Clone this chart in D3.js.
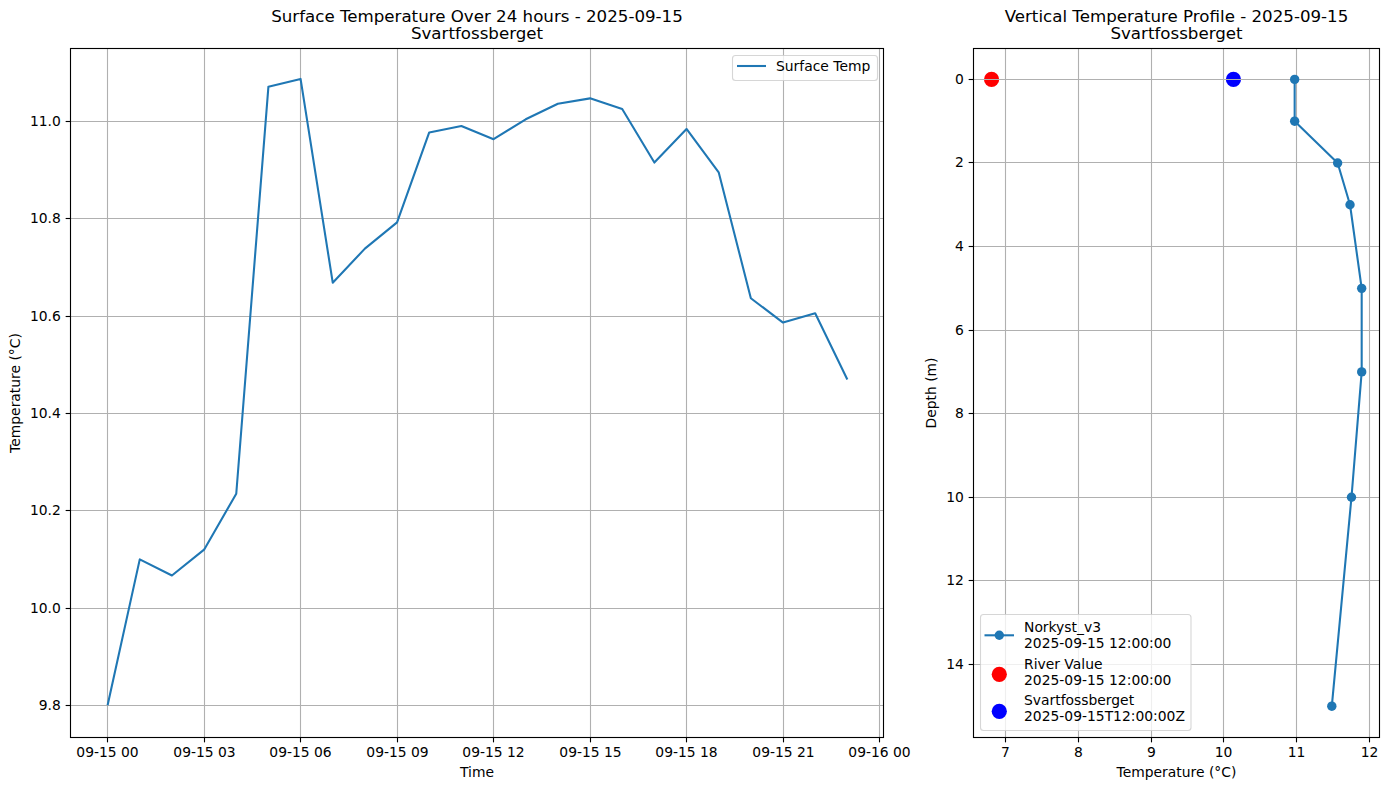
<!DOCTYPE html>
<html><head><meta charset="utf-8">
<script src="https://cdn.jsdelivr.net/npm/d3@7"></script>
<style>
html,body{margin:0;padding:0;background:#fff}
svg{display:block}
text{font-family:"DejaVu Sans",sans-serif;fill:#000}
</style></head><body><svg id="c" width="1389" height="790"></svg>
<script>
const hours=[0,1,2,3,4,5,6,7,8,9,10,11,12,13,14,15,16,17,18,19,20,21,22,23];
const surfaceTemp=[9.8,10.1,10.067,10.12,10.235,11.072,11.088,10.669,10.739,10.793,10.978,10.991,10.964,11.005,11.037,11.048,11.026,10.916,10.985,10.896,10.637,10.587,10.606,10.47];
const surfaceYTicks=[9.8,10,10.2,10.4,10.6,10.8,11];
const surfaceXTicksHours=[0,3,6,9,12,15,18,21,24];
const depths=[0,1,2,3,5,7,10,15];
const profileTemp=[10.97,10.97,11.56,11.73,11.89,11.89,11.75,11.48];
const profileXTicks=[7,8,9,10,11,12];
const profileYTicks=[0,2,4,6,8,10,12,14];
const riverValue=[{t:6.81,d:0}];
const stationValue=[{t:10.13,d:0}];
const legendLeft=["Surface Temp"];
const legendRight=[["Norkyst_v3","2025-09-15 12:00:00"],["River Value","2025-09-15 12:00:00"],["Svartfossberget","2025-09-15T12:00:00Z"]];

const FS=13.89,BLUE="#1f77b4",GRID="#b0b0b0";
const svg=d3.select("#c");
const time=h=>new Date(Date.UTC(2025,8,15,h));
const fmt=d3.utcFormat("%m-%d %H");
const snap=v=>Math.floor(v)+0.5;

function frame(g,L,R,T,B,xA,yA,title,xl,yl,ylx){
  g.append("g").attr("transform",`translate(0,${B})`).call(xA.offset(0)).call(styleAxis);
  g.append("g").attr("transform",`translate(${L},0)`).call(yA.offset(0)).call(styleAxis);
  const t=g.append("text").attr("x",(L+R)/2).attr("text-anchor","middle").style("font-size","16.67px");
  t.append("tspan").attr("x",(L+R)/2).attr("y",21.5).text(title[0]);
  t.append("tspan").attr("x",(L+R)/2).attr("y",39).text(title[1]);
  g.append("text").attr("x",(L+R)/2).attr("y",777).attr("text-anchor","middle").style("font-size",FS+"px").text(xl);
  g.append("text").attr("transform",`translate(${ylx},${(T+B)/2}) rotate(-90)`).attr("text-anchor","middle").style("font-size",FS+"px").text(yl);
}
function styleAxis(s){
  s.select(".domain").remove();
  s.selectAll(".tick").attr("transform",function(){
    const m=/translate\(([^,]+),([^)]+)\)/.exec(this.getAttribute("transform"));
    const a=+m[1],b=+m[2];
    return a===0?`translate(0,${snap(b)})`:`translate(${snap(a)},0)`;
  });
  s.selectAll(".tick line").attr("stroke","#000").attr("stroke-width",1.11);
  s.selectAll(".tick text").style("font-size",FS+"px").style("font-family",'"DejaVu Sans",sans-serif').attr("fill","#000");
}
function grid(g,xs,ys,x,y,L,R,T,B){
  const a=g.append("g").attr("stroke",GRID).attr("stroke-width",1.11);
  xs.forEach(v=>a.append("line").attr("x1",snap(x(v))).attr("x2",snap(x(v))).attr("y1",T).attr("y2",B));
  ys.forEach(v=>a.append("line").attr("y1",snap(y(v))).attr("y2",snap(y(v))).attr("x1",L).attr("x2",R));
}
function border(g,L,R,T,B){
  g.append("rect").attr("x",L).attr("y",T).attr("width",R-L).attr("height",B-T).attr("fill","none").attr("stroke","#000").attr("stroke-width",1.11);
}
function legendBox(g,x,y,w,h){
  g.append("rect").attr("x",x).attr("y",y).attr("width",w).attr("height",h).attr("rx",3).attr("fill","#fff").attr("fill-opacity",.8).attr("stroke","#ccc").attr("stroke-opacity",.8).attr("stroke-width",1.11);
}

/* left panel */
{
  const L=70.5,R=883.5,T=48.5,B=737.5;
  const g=svg.append("g");
  const x=d3.scaleUtc().domain([time(0),time(24)]).range([107.6,879.5]);
  const y=d3.scaleLinear().domain([9.8,11]).range([705.3,121.7]);
  const xT=surfaceXTicksHours.map(time);
  frame(g,L,R,T,B,
    d3.axisBottom(x).tickValues(xT).tickFormat(fmt).tickSize(4.86).tickPadding(4.86),
    d3.axisLeft(y).tickValues(surfaceYTicks).tickFormat(d3.format(".1f")).tickSize(4.86).tickPadding(4.86),
    ["Surface Temperature Over 24 hours - 2025-09-15","Svartfossberget"],"Time","Temperature (°C)",20);
  grid(g,xT,surfaceYTicks,x,y,L,R,T,B);
  g.append("path").datum(hours).attr("fill","none").attr("stroke",BLUE).attr("stroke-width",2.08).attr("stroke-linejoin","round")
    .attr("d",d3.line().x(h=>x(time(h))).y(h=>y(surfaceTemp[h])));
  border(g,L,R,T,B);
  legendBox(g,732.5,55.5,145,25);
  g.append("line").attr("x1",737).attr("x2",766).attr("y1",66).attr("y2",66).attr("stroke",BLUE).attr("stroke-width",2.08);
  g.append("text").attr("x",776).attr("y",71).style("font-size",FS+"px").text(legendLeft[0]);
}
/* right panel */
{
  const L=973.5,R=1379.5,T=48.5,B=737.5;
  const g=svg.append("g");
  const x=d3.scaleLinear().domain([7,12]).range([1005.4,1369.7]);
  const y=d3.scaleLinear().domain([0,14]).range([79.4,664.4]);
  frame(g,L,R,T,B,
    d3.axisBottom(x).tickValues(profileXTicks).tickFormat(d3.format("d")).tickSize(4.86).tickPadding(4.86),
    d3.axisLeft(y).tickValues(profileYTicks).tickFormat(d3.format("d")).tickSize(4.86).tickPadding(4.86),
    ["Vertical Temperature Profile - 2025-09-15","Svartfossberget"],"Temperature (°C)","Depth (m)",936);
  const scat=(data,c)=>g.selectAll(null).data(data).enter().append("circle").attr("cx",d=>x(d.t)).attr("cy",d=>y(d.d)).attr("r",7.6).attr("fill",c);
  scat(riverValue,"#ff0000");scat(stationValue,"#0000ff");
  grid(g,profileXTicks,profileYTicks,x,y,L,R,T,B);
  g.append("path").datum(depths).attr("fill","none").attr("stroke",BLUE).attr("stroke-width",2.08).attr("stroke-linejoin","round")
    .attr("d",d3.line().x((d,i)=>x(profileTemp[i])).y(d=>y(d)));
  g.selectAll(null).data(depths).enter().append("circle").attr("cx",(d,i)=>x(profileTemp[i])).attr("cy",d=>y(d)).attr("r",4.7).attr("fill",BLUE);
  border(g,L,R,T,B);
  legendBox(g,980.5,614.5,210.5,116);
  g.append("line").attr("x1",984.5).attr("x2",1014).attr("y1",635.3).attr("y2",635.3).attr("stroke",BLUE).attr("stroke-width",2.08);
  g.append("circle").attr("cx",999.3).attr("cy",635.3).attr("r",4.7).attr("fill",BLUE);
  g.append("circle").attr("cx",999.3).attr("cy",674.3).attr("r",7.6).attr("fill","#ff0000");
  g.append("circle").attr("cx",999.3).attr("cy",711.3).attr("r",7.6).attr("fill","#0000ff");
  legendRight.forEach((r,i)=>{
    const y0=[632,669,705][i];
    g.append("text").attr("x",1024).attr("y",y0).style("font-size",FS+"px").text(r[0]);
    g.append("text").attr("x",1024).attr("y",y0+15.5).style("font-size",FS+"px").text(r[1]);
  });
}
</script></body></html>
